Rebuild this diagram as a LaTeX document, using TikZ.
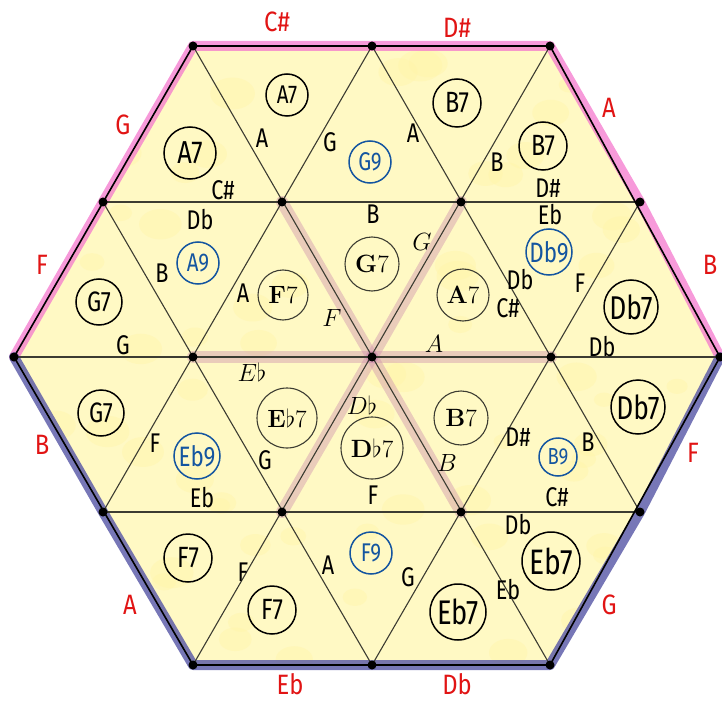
\documentclass[tikz,border=0pt]{standalone}
\usepackage{fontspec}
\newfontfamily\hand{Fira Sans}
\definecolor{hexfill}{RGB}{255,249,196}
\definecolor{blotc}{RGB}{255,245,170}
\definecolor{gridc}{RGB}{60,60,50}
\definecolor{spokec}{RGB}{210,150,175}
\definecolor{pinkc}{RGB}{244,120,205}
\definecolor{bluec}{RGB}{85,85,165}
\definecolor{redc}{RGB}{225,20,20}
\definecolor{bluetxt}{RGB}{20,85,160}
\newcommand\Ch[6]{%
  \pgfmathsetmacro\chfs{1.22*#4}%
  \node[hchord, draw=#6, text=#6, minimum size=2*#4] (#1) at (#2,#3)
    {\makebox[0pt]{\scalebox{0.8}[1]{\fontsize{\chfs}{\chfs}\selectfont #5}}};}
\newcommand\Cc[5]{%
  \node[cchord, minimum size=2*#4] (#1) at (#2,#3) {#5};}
\begin{document}
\begin{tikzpicture}[x=1pt,y=-1pt,
  hchord/.style={circle, inner sep=0pt, line width=1.5pt, font=\hand},
  cchord/.style={circle, inner sep=0pt, draw=gridc, line width=1.1pt, font=\fontsize{25}{25}\selectfont},
  hlab/.style={font=\hand\fontsize{27}{27}\selectfont, inner sep=0pt},
  rlab/.style={font=\hand\fontsize{28}{28}\selectfont, inner sep=0pt, text=redc},
  ilab/.style={font=\fontsize{25}{25}\selectfont, inner sep=0pt},
  gridln/.style={draw=gridc, line width=1.1pt},
  outerln/.style={draw=black, line width=1.6pt, line join=round},
  spokehl/.style={draw=spokec, line width=12pt, line cap=round, opacity=0.45},
  pinkhl/.style={draw=pinkc, line width=10pt, line cap=round, line join=round, opacity=0.75},
  bluehl/.style={draw=bluec, line width=10pt, line cap=round, line join=round, opacity=0.8},
  vdot/.style={fill=black}]
\useasboundingbox (0,0) rectangle (722,703);
% vertices
\coordinate (a1) at (193,46);  \coordinate (a2) at (372,46);  \coordinate (a3) at (550,46);
\coordinate (b1) at (103,202); \coordinate (b2) at (282,202); \coordinate (b3) at (461,202); \coordinate (b4) at (640,202);
\coordinate (c1) at (14,357);  \coordinate (c2) at (193,357); \coordinate (c3) at (372,357); \coordinate (c4) at (551,357); \coordinate (c5) at (720,357);
\coordinate (d1) at (103,512); \coordinate (d2) at (282,512); \coordinate (d3) at (461,512); \coordinate (d4) at (640,512);
\coordinate (e1) at (193,665); \coordinate (e2) at (372,665); \coordinate (e3) at (550,665);
% fill
\fill[hexfill] (a1) -- (a3) -- (c5) -- (e3) -- (e1) -- (c1) -- cycle;
\begin{scope}
  \clip (a1) -- (a3) -- (c5) -- (e3) -- (e1) -- (c1) -- cycle;
  \pgfmathsetseed{17}
  \foreach \k in {1,...,80} {
    \pgfmathsetmacro\bx{20+rnd*690}
    \pgfmathsetmacro\by{50+rnd*610}
    \pgfmathsetmacro\br{7+rnd*9}
    \fill[blotc, opacity=0.45] (\bx,\by) ellipse ({\br*1.4} and {\br});
  }
\end{scope}
% highlights
\draw[spokehl] (c3) -- (b2);
\draw[spokehl] (c3) -- (b3);
\draw[spokehl] (c3) -- (c2);
\draw[spokehl] (c3) -- (c4);
\draw[spokehl] (c3) -- (d2);
\draw[spokehl] (c3) -- (d3);
\draw[pinkhl] (c1) -- (b1) -- (a1) -- (a2) -- (a3) -- (b4) -- (c5);
\draw[bluehl] (c1) -- (d1) -- (e1) -- (e2) -- (e3) -- (d4) -- (c5);
% grid
\draw[gridln] (b1) -- (b4);
\draw[gridln] (c1) -- (c5);
\draw[gridln] (d1) -- (d4);
\draw[gridln] (a1) -- (e3);
\draw[gridln] (a2) -- (d4);
\draw[gridln] (b1) -- (e2);
\draw[gridln] (a3) -- (e1);
\draw[gridln] (a2) -- (d1);
\draw[gridln] (b4) -- (e2);
\draw[outerln] (a1) -- (a3) -- (c5) -- (e3) -- (e1) -- (c1) -- cycle;
\foreach \p in {a1,a2,a3,b1,b2,b3,b4,c1,c2,c3,c4,c5,d1,d2,d3,d4,e1,e2,e3}
  \fill[vdot] (\p) circle (4.5);
% central chords
\Cc{cG}{372}{264}{27}{{\bfseries G}7}
\Cc{cF}{283}{295}{25}{{\bfseries F}7}
\Cc{cA}{463}{295}{26}{{\bfseries A}7}
\Cc{cEb}{287}{418}{30}{{\bfseries E}$\flat$7}
\Cc{cDb}{372}{448}{31}{{\bfseries D}$\flat$7}
\Cc{cB}{461}{418}{27}{{\bfseries B}7}
% handwritten chords
\Ch{t1}{190}{153}{26}{A7}{black}
\Ch{t2}{287}{95}{21}{A7}{black}
\Ch{t3}{370}{162}{21}{G9}{bluetxt}
\Ch{t4}{457}{103}{24}{B7}{black}
\Ch{t5}{543}{146}{24}{B7}{black}
\Ch{t6}{99}{302}{23}{G7}{black}
\Ch{t7}{198}{263}{21}{A9}{bluetxt}
\Ch{t11}{549}{252}{23}{Db9}{bluetxt}
\Ch{t12}{631}{307}{27}{Db7}{black}
\Ch{t13}{101}{413}{23}{G7}{black}
\Ch{t14}{197}{456}{23}{Eb9}{bluetxt}
\Ch{t18}{558}{457}{19}{B9}{bluetxt}
\Ch{t19}{638}{407}{27}{Db7}{black}
\Ch{t20}{188}{558}{24}{F7}{black}
\Ch{t21}{272}{610}{24}{F7}{black}
\Ch{t22}{371}{553}{21}{F9}{bluetxt}
\Ch{t23}{458}{612}{28}{Eb7}{black}
\Ch{t24}{551}{561}{29}{Eb7}{black}
% italic spoke labels
\node[ilab] (sF) at (332,318) {$F$};
\node[ilab] (sG) at (422,242) {$G$};
\node[ilab] (sA) at (434,344) {$A$};
\node[ilab] (sEb) at (252,372) {$E\flat$};
\node[ilab] (sDb) at (362,405) {$D\flat$};
\node[ilab] (sB) at (447,463) {$B$};
% handwritten edge labels
\foreach \x/\y/\t [count=\i] in {262/138/A, 330/142/G, 223/190/C\#, 413/133/A, 497/162/B, 548/188/D\#,
  200/220/Db, 162/273/B, 243/293/A, 123/345/G, 373/214/B, 550/215/Eb, 520/280/Db, 508/308/C\#,
  580/283/F, 602/347/Db, 155/443/F, 265/460/G, 202/498/Eb, 373/495/F, 518/437/D\#, 588/442/B,
  557/497/C\#, 518/525/Db, 243/572/F, 328/565/A, 408/577/G, 508/590/Eb}
  \node[hlab] (h\i) at (\x,\y) {\scalebox{0.8}[1]{\t}};
% red outer labels
\foreach \x/\y/\t [count=\i] in {277/22/C\#, 457/28/D\#, 123/125/G, 609/108/A, 42/265/F, 710/265/B,
  42/445/B, 693/453/F, 130/605/A, 609/605/G, 290/684/Eb, 457/684/Db}
  \node[rlab] (r\i) at (\x,\y) {\scalebox{0.85}[1]{\t}};
\end{tikzpicture}
\end{document}
